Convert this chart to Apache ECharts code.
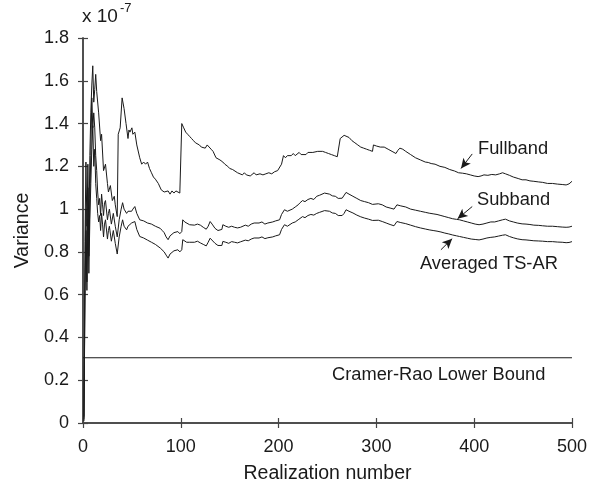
<!DOCTYPE html>
<html><head><meta charset="utf-8">
<script src="https://cdn.jsdelivr.net/npm/echarts@6/dist/echarts.min.js"></script>
<style>html,body{margin:0;padding:0;background:#fff}#c{width:590px;height:492px}</style>
</head><body><div id="c"></div>
<script>
const xTicks = [0, 100, 200, 300, 400, 500];
const yTicks = [0, 0.2, 0.4, 0.6, 0.8, 1, 1.2, 1.4, 1.6, 1.8];
const cramerRao = [[0, 0.305], [500, 0.305]];
const fullband = [[1,0.03],[2,0.85],[3,1.22],[4,0.92],[5,1.21],[6,0.88],[7,1.25],[8,1.45],[9,1.58],[10,1.67],[11,1.50],[12,1.56],[13,1.63],[14,1.55],[16,1.45],[18,1.32],[19,1.35],[21,1.18],[23,1.21],[25,1.12],[26,1.08],[28,1.11],[30,1.04],[32,1.06],[33,1.02],[35,0.965],[36,1.35],[38,1.38],[40,1.52],[42,1.47],[44,1.40],[46,1.33],[47,1.37],[48,1.36],[50,1.38],[51,1.35],[53,1.36],[55,1.30],[58,1.24],[60,1.21],[62,1.22],[64,1.21],[66,1.22],[68,1.19],[70,1.17],[72,1.15],[74,1.14],[77,1.12],[80,1.09],[83,1.08],[85,1.075],[87,1.085],[89,1.07],[91,1.085],[93,1.075],[95,1.085],[97,1.08],[99,1.075],[100,1.08],[101,1.40],[103,1.38],[105,1.36],[107,1.35],[109,1.34],[111,1.33],[113,1.32],[115,1.31],[117,1.315],[119,1.30],[121,1.29],[123,1.295],[125,1.285],[127,1.30],[129,1.305],[131,1.28],[133,1.27],[136,1.24],[138,1.235],[140,1.23],[143,1.22],[145,1.21],[148,1.20],[150,1.19],[153,1.185],[155,1.18],[158,1.17],[160,1.165],[163,1.16],[165,1.17],[167,1.16],[169,1.165],[171,1.155],[173,1.16],[175,1.17],[177,1.16],[179,1.155],[181,1.165],[184,1.16],[187,1.165],[190,1.17],[193,1.165],[196,1.175],[199,1.18],[201,1.18],[203,1.21],[205,1.25],[207,1.24],[209,1.25],[211,1.245],[213,1.25],[215,1.26],[217,1.25],[219,1.255],[221,1.265],[223,1.255],[225,1.26],[228,1.255],[230,1.265],[232,1.26],[235,1.265],[237,1.26],[240,1.27],[242,1.275],[245,1.27],[248,1.265],[251,1.26],[254,1.255],[257,1.25],[260,1.245],[262,1.245],[263,1.33],[265,1.325],[267,1.345],[269,1.345],[272,1.335],[275,1.32],[278,1.31],[281,1.30],[284,1.29],[287,1.285],[290,1.28],[293,1.275],[296,1.27],[297,1.30],[300,1.295],[304,1.29],[308,1.29],[312,1.28],[316,1.27],[320,1.26],[322,1.275],[324,1.285],[327,1.28],[330,1.27],[335,1.255],[340,1.24],[345,1.23],[350,1.22],[353,1.218],[356,1.213],[360,1.21],[365,1.20],[370,1.195],[375,1.185],[380,1.178],[384,1.17],[388,1.168],[392,1.165],[396,1.16],[400,1.155],[404,1.152],[407,1.155],[410,1.16],[414,1.158],[418,1.162],[422,1.16],[426,1.165],[429,1.17],[432,1.165],[436,1.158],[440,1.15],[445,1.143],[449,1.137],[453,1.137],[457,1.132],[461,1.13],[466,1.127],[470,1.125],[475,1.12],[480,1.12],[485,1.117],[490,1.115],[494,1.113],[497,1.118],[500,1.13]];
const subband = [[1,0.02],[2,0.62],[3,1.0],[4,0.66],[5,1.1],[6,0.78],[7,1.05],[8,1.25],[9,1.52],[10,1.38],[11,1.45],[12,1.38],[13,1.25],[14,1.18],[15,1.08],[16,1.02],[17,1.05],[18,0.97],[19,1.07],[20,1.02],[21,0.97],[22,1.03],[23,1.04],[25,0.95],[26,0.98],[27,1.0],[29,0.93],[31,0.98],[33,0.92],[35,0.87],[37,0.95],[39,1.0],[40.5,1.03],[42,1.0],[44.6,0.98],[46,0.99],[48,0.985],[49.7,0.99],[51,1.0],[53,1.012],[55,0.98],[58,0.95],[60,0.955],[62,0.945],[64,0.945],[66,0.935],[68,0.935],[70,0.93],[72,0.925],[74,0.92],[76,0.915],[79,0.91],[81,0.90],[83,0.89],[85,0.87],[87,0.857],[89,0.875],[91,0.87],[93,0.89],[95,0.885],[97,0.895],[99,0.885],[101,0.895],[102,0.95],[104,0.94],[106,0.935],[109,0.927],[111,0.93],[114,0.925],[117,0.93],[120,0.925],[123,0.915],[126,0.906],[128,0.92],[130,0.942],[132,0.93],[135,0.91],[138,0.9],[140,0.895],[142,0.905],[143,0.927],[146,0.92],[149,0.915],[152,0.92],[155,0.915],[158,0.912],[161,0.915],[163,0.911],[166,0.925],[169,0.92],[172,0.93],[175,0.935],[177,0.942],[180,0.935],[183,0.94],[186,0.93],[189,0.935],[191,0.931],[194,0.94],[197,0.945],[199,0.95],[201,0.95],[203,0.975],[206,0.997],[209,0.99],[211,0.985],[214,1.0],[217,1.01],[220,1.02],[222,1.03],[224.5,1.04],[227,1.035],[230,1.045],[233,1.05],[236,1.045],[239,1.06],[242,1.065],[244,1.072],[247,1.075],[249,1.075],[252,1.07],[255,1.062],[258,1.06],[261,1.05],[263,1.045],[265,1.051],[267,1.06],[269,1.078],[272,1.07],[276,1.06],[280,1.05],[284,1.04],[288,1.035],[292,1.03],[296,1.022],[298,1.03],[302,1.025],[306,1.02],[310,1.01],[314,1.005],[318,1.0],[320,0.995],[321,1.02],[325,1.015],[330,1.01],[335,1.0],[340,0.995],[345,0.99],[350,0.985],[354,0.981],[358,0.978],[362,0.975],[366,0.97],[370,0.965],[374,0.96],[378,0.955],[382,0.952],[385,0.95],[389,0.945],[393,0.94],[397,0.935],[401,0.93],[405,0.927],[409,0.93],[413,0.935],[417,0.94],[421,0.94],[425,0.945],[429,0.95],[432,0.953],[436,0.945],[440,0.94],[444,0.935],[449,0.931],[453,0.93],[457,0.928],[461,0.925],[466,0.924],[470,0.922],[475,0.92],[480,0.92],[485,0.918],[490,0.916],[494,0.915],[497,0.916],[500,0.92]];
const averagedTSAR = [[1,0.01],[2,0.58],[3,0.9],[4,0.62],[5,0.95],[6,0.7],[7,0.95],[8,1.12],[9,1.28],[10,1.39],[11,1.2],[12,1.28],[13,1.12],[14,1.05],[15,0.98],[16,0.94],[17,0.97],[18,0.9],[19,0.98],[20,0.93],[21,0.87],[22,0.93],[23,0.95],[25,0.86],[26,0.9],[27,0.92],[29,0.85],[31,0.9],[33,0.84],[35,0.79],[37,0.87],[39,0.92],[40.5,0.95],[42,0.92],[44.6,0.903],[46,0.92],[48,0.925],[49.7,0.935],[51,0.94],[53,0.942],[55,0.905],[58,0.872],[60,0.875],[62,0.865],[64,0.86],[66,0.855],[68,0.849],[70,0.845],[72,0.84],[74,0.835],[76,0.83],[79,0.818],[81,0.81],[83,0.80],[85,0.785],[87,0.771],[89,0.79],[91,0.79],[93,0.805],[95,0.80],[97,0.81],[99,0.80],[101,0.81],[102,0.857],[104,0.85],[106,0.845],[109,0.845],[111,0.85],[114,0.845],[117,0.85],[120,0.842],[123,0.835],[126,0.828],[128,0.845],[130,0.864],[132,0.855],[135,0.84],[138,0.83],[140,0.822],[142,0.83],[143,0.849],[146,0.845],[149,0.84],[152,0.848],[155,0.845],[158,0.842],[161,0.847],[163,0.849],[166,0.855],[169,0.852],[172,0.86],[175,0.865],[177,0.872],[180,0.865],[183,0.87],[186,0.862],[189,0.866],[191,0.864],[194,0.87],[197,0.875],[199,0.88],[201,0.88],[203,0.905],[206,0.927],[209,0.92],[211,0.925],[214,0.935],[217,0.94],[220,0.95],[222,0.955],[224.5,0.965],[227,0.96],[230,0.97],[233,0.975],[236,0.972],[239,0.98],[242,0.985],[244,0.99],[247,0.993],[249,0.995],[252,0.99],[255,0.982],[258,0.98],[261,0.97],[263,0.965],[265,0.97],[267,0.98],[269,0.997],[272,0.99],[276,0.982],[280,0.972],[284,0.964],[288,0.958],[292,0.953],[296,0.947],[298,0.953],[302,0.948],[306,0.942],[310,0.935],[314,0.928],[318,0.922],[320,0.918],[321,0.942],[325,0.937],[330,0.932],[335,0.925],[340,0.918],[345,0.912],[350,0.907],[354,0.903],[358,0.9],[362,0.897],[366,0.893],[370,0.888],[374,0.884],[378,0.879],[382,0.875],[385,0.872],[389,0.868],[393,0.864],[397,0.86],[401,0.858],[405,0.856],[409,0.86],[413,0.865],[417,0.868],[421,0.87],[425,0.874],[429,0.878],[432,0.88],[436,0.872],[440,0.866],[444,0.861],[449,0.857],[453,0.856],[457,0.854],[461,0.852],[466,0.851],[470,0.85],[475,0.848],[480,0.848],[485,0.846],[490,0.845],[494,0.843],[497,0.844],[500,0.848]];
const seriesNames = ['Fullband', 'Subband', 'Averaged TS-AR', 'Cramer-Rao Lower Bound'];
const arrowFullband = [[398, 1.258], [386.5, 1.19]];
const arrowSubband = [[398, 1.012], [383, 0.955]];
const arrowAveraged = [[366, 0.81], [377.5, 0.862]];

const FONT = 'Liberation Sans, Arial, Helvetica, sans-serif';
const INK = '#1a1a1a';
const AX = '#444';
const chart = echarts.init(document.getElementById('c'), null, {renderer: 'canvas'});

function axisCommon(showLabel) {
  return {
    axisLine: {show: true, lineStyle: {color: AX, width: 1.5}},
    axisTick: {show: true, inside: true, length: 5, lineStyle: {color: AX, width: 1.2}},
    splitLine: {show: false},
    axisLabel: {show: showLabel, color: INK, fontSize: 18, fontFamily: FONT}
  };
}
function arrowLine(a) {
  return {
    silent: true, animation: false,
    symbol: ['none', 'arrow'], symbolSize: [7, 10],
    label: {show: false},
    lineStyle: {color: INK, width: 1, type: 'solid'},
    data: [[{coord: a[0]}, {coord: a[1]}]]
  };
}
function lineSeries(name, data, arrow) {
  const s = {
    name: name, type: 'line', data: data, showSymbol: false, symbol: 'none',
    lineStyle: {color: INK, width: 1}, animation: false, silent: true
  };
  if (arrow) s.markLine = arrowLine(arrow);
  return s;
}

const textStyle = (t, x, y, size) => ({
  type: 'text', x: x, y: y, silent: true,
  style: {text: t, fill: INK, fontSize: size, fontFamily: FONT, verticalAlign: 'middle', align: 'left'}
});

chart.setOption({
  animation: false,
  backgroundColor: '#fff',
  grid: {left: 83, right: 17, top: 38, bottom: 69},
  xAxis: [
    Object.assign({type: 'value', min: xTicks[0], max: xTicks[xTicks.length - 1], interval: 100, position: 'bottom',
      name: 'Realization number', nameLocation: 'middle', nameGap: 41,
      nameTextStyle: {color: INK, fontSize: 19.5, fontFamily: FONT}}, axisCommon(true),
      {axisLabel: {show: true, color: INK, fontSize: 18, fontFamily: FONT, margin: 15}}),
    Object.assign({type: 'value', min: 0, max: 500, interval: 100, position: 'top'}, axisCommon(false))
  ],
  yAxis: [
    Object.assign({type: 'value', min: yTicks[0], max: yTicks[yTicks.length - 1], interval: 0.2, position: 'left',
      name: 'Variance', nameLocation: 'middle', nameGap: 49,
      nameTextStyle: {color: INK, fontSize: 19.5, fontFamily: FONT}}, axisCommon(true),
      {axisLabel: {show: true, color: INK, fontSize: 18, fontFamily: FONT, margin: 14}}),
    Object.assign({type: 'value', min: 0, max: 1.8, interval: 0.2, position: 'right'}, axisCommon(false))
  ],
  series: [
    lineSeries(seriesNames[0], fullband, arrowFullband),
    lineSeries(seriesNames[1], subband, arrowSubband),
    lineSeries(seriesNames[2], averagedTSAR, arrowAveraged),
    lineSeries(seriesNames[3], cramerRao, null)
  ],
  graphic: [
    textStyle('x 10', 82, 17, 19),
    textStyle('-7', 120, 8, 13),
    textStyle(seriesNames[0], 478, 149, 18.3),
    textStyle(seriesNames[1], 477, 200, 18.3),
    textStyle(seriesNames[2], 420, 264, 18.3),
    textStyle(seriesNames[3], 332, 375, 18.3)
  ]
});
</script></body></html>
